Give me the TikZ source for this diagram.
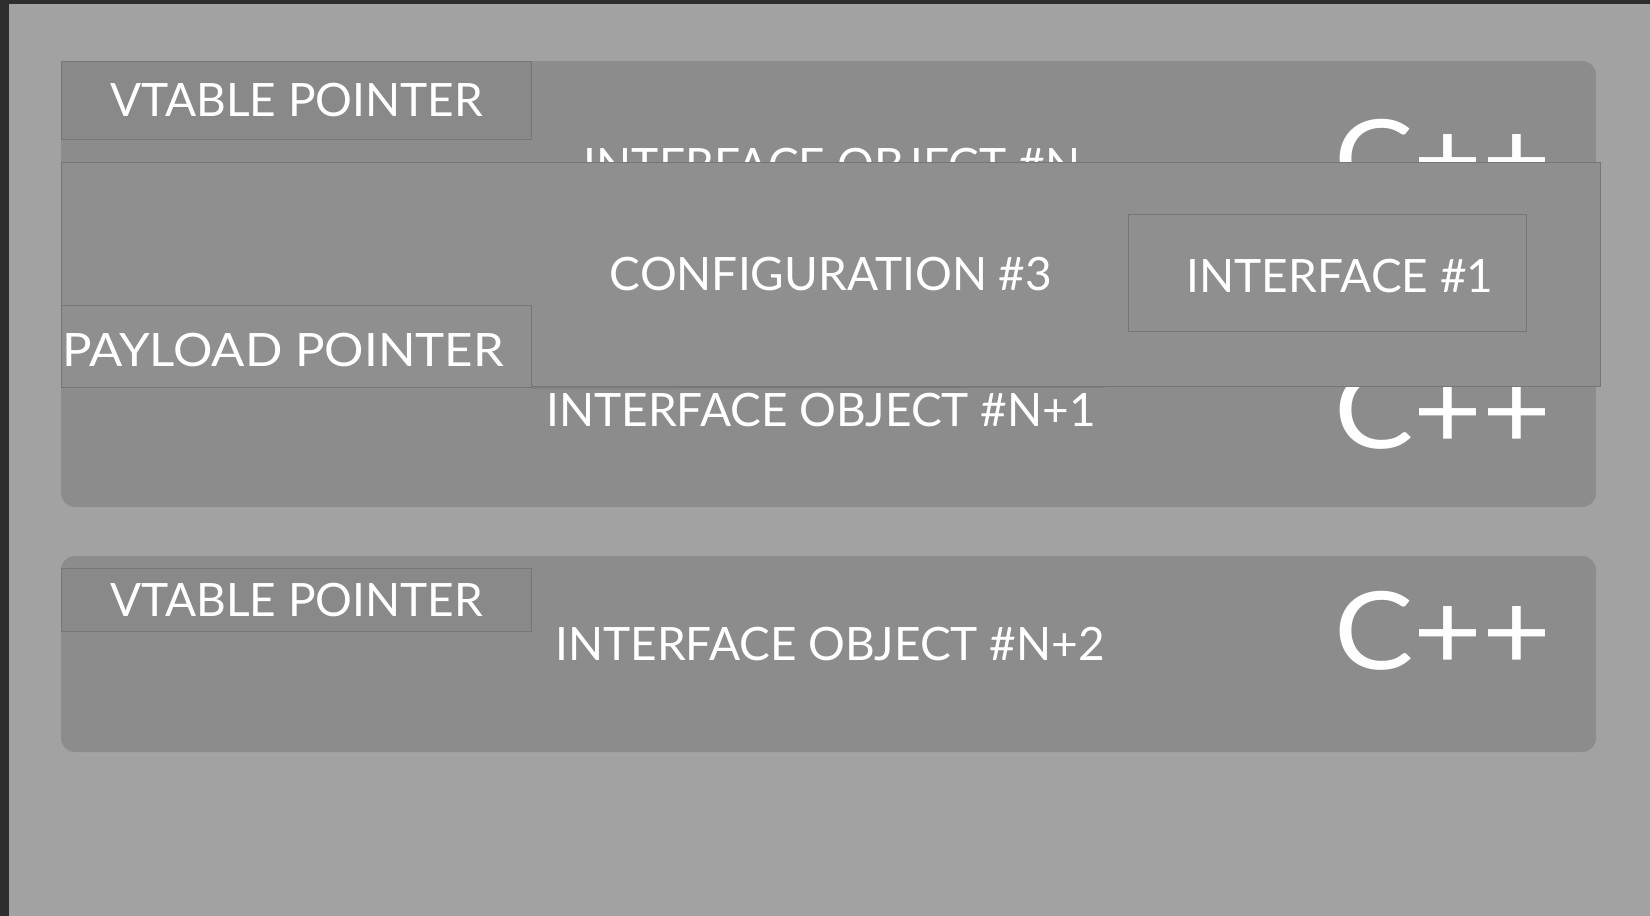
\documentclass[tikz,border=0pt]{standalone}
\usepackage{fontspec}
\setmainfont{Lato}
\definecolor{bggray}{HTML}{A2A2A2}
\definecolor{edgegray}{HTML}{2E2E2E}
\definecolor{panelgray}{HTML}{8C8C8C}
\definecolor{cfggray}{HTML}{8F8F8F}
\definecolor{cellgray}{HTML}{898989}
\definecolor{linegray}{HTML}{767676}
\begin{document}
\begin{tikzpicture}[x=1pt,y=-1pt,
  lbl/.style={text=white, font=\fontsize{46}{48}\selectfont, inner sep=0pt},
  cpp/.style={text=white, font=\fontsize{108}{110}\selectfont, inner sep=0pt},
  panel/.style={fill=panelgray, rounded corners=14pt, draw=none},
  cell/.style={draw=linegray, line width=1pt, fill=cellgray, inner sep=0pt, anchor=north west,
    text=white, font=\fontsize{46}{48}\selectfont},
  cfg/.style={fill=cfggray, draw=linegray, line width=1pt}]
\useasboundingbox (0,0) rectangle (1650,916);
\fill[bggray] (0,0) rectangle (1650,916);
\fill[edgegray] (0,0) rectangle (9,916);
\fill[edgegray] (0,0) rectangle (1650,4);
% panels
\fill[panel] (61,61) rectangle (1596,507);
\fill[panel] (61,556) rectangle (1596,752);
% interface object #N (partly hidden)
\node[cell, minimum width=470pt, minimum height=78pt] (vt1) at (61,61) {VTABLE POINTER};
\node[lbl] (io1) at (832,165) {INTERFACE OBJECT \#N};
\node[cpp] (cpp1) at (1443,159) {\scalebox{1.1}[1]{C++}};
\node[cpp] (cpp2) at (1443,410) {\scalebox{1.1}[1]{C++}};
% configuration overlay
\draw[cfg] (61,162) rectangle (1600,386);
\node[lbl] (cfgt) at (831,274) {CONFIGURATION \#3};
\node[cell, minimum width=398pt, minimum height=117pt, fill=cfggray] (if1) at (1128,214) {};
\node[lbl] (if1t) at (1340,276) {INTERFACE \#1};
% interface object #N+1
\node[cell, minimum width=470pt, minimum height=82pt, fill=cfggray] (pp) at (61,305) {};
\node[lbl] (ppt) at (283,350) {\scalebox{1.07}[1]{PAYLOAD POINTER}};
\draw[linegray, line width=1pt] (pp.south east) -- (1105,387);
\node[lbl] (io2) at (821,410) {INTERFACE OBJECT \#N+1};
% interface object #N+2
\node[cell, minimum width=470pt, minimum height=63pt] (vt3) at (61,568) {VTABLE POINTER};
\node[lbl] (io3) at (830,644) {INTERFACE OBJECT \#N+2};
\node[cpp] (cpp3) at (1443,631) {\scalebox{1.1}[1]{C++}};
\end{tikzpicture}
\end{document}
